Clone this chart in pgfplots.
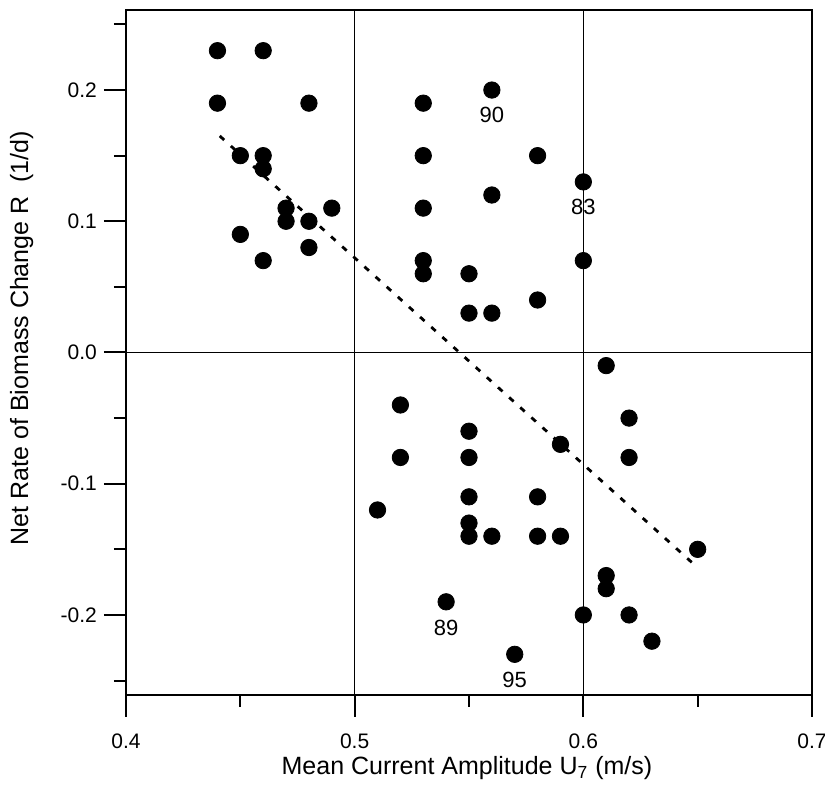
\documentclass[border=0pt]{standalone}
\usepackage{pgfplots}
\pgfplotsset{compat=1.18}
\usepackage{fontspec}
\setmainfont{Liberation Sans}
\begin{document}
\begin{tikzpicture}
\begin{axis}[
  scale only axis,
  width=343pt, height=342.5pt,
  xmin=0.4, xmax=0.7, ymin=-0.261, ymax=0.261,
  axis line style={line width=1pt},
  xtick={0.4,0.5,0.6,0.7},
  xticklabels={0.4,0.5,0.6,0.7},
  ytick={-0.2,-0.1,0,0.1,0.2},
  yticklabels={-0.2,-0.1,0.0,0.1,0.2},
  minor xtick={0.45,0.55,0.65},
  minor ytick={-0.25,-0.15,-0.05,0.05,0.15,0.25},
  tick align=outside,
  xtick pos=bottom, ytick pos=left,
  major tick length=11pt, minor tick length=6pt,
  tick style={black, line width=1pt},
  ticklabel style={font=\fontsize{10.5}{12}\selectfont},
  xticklabel style={yshift=-5pt},
  xmajorgrids,
  major grid style={black, line width=0.5pt},
  xlabel={Mean Current Amplitude U$_{\mathrm{7}}$ (m/s)},
  ylabel={Net Rate of Biomass Change R\ \ (1/d)},
  label style={font=\fontsize{12.5}{15}\selectfont},
  xlabel style={at={(axis description cs:0.497,-0.107)}, anchor=center},
  ylabel style={at={(axis description cs:-0.152,0.521)}, anchor=center},
  clip=false,
]
\draw[black, line width=0.5pt] (axis cs:0.4,0) -- (axis cs:0.7,0);
\addplot[black, line width=1.4pt, dash pattern=on 3pt off 4.5pt] coordinates {(0.441,0.165) (0.650,-0.164)};
\addplot[only marks, mark=*, mark size=4.1pt, black] coordinates {
(0.44,0.23) (0.46,0.23) (0.44,0.19) (0.48,0.19)
(0.45,0.15) (0.46,0.15) (0.46,0.14)
(0.47,0.11) (0.49,0.11) (0.47,0.10) (0.48,0.10)
(0.45,0.09) (0.48,0.08) (0.46,0.07)
(0.53,0.19) (0.56,0.20) (0.53,0.15) (0.58,0.15)
(0.60,0.13) (0.56,0.12) (0.53,0.11)
(0.53,0.07) (0.53,0.06) (0.55,0.06) (0.60,0.07)
(0.58,0.04) (0.55,0.03) (0.56,0.03)
(0.61,-0.01) (0.52,-0.04) (0.62,-0.05) (0.55,-0.06)
(0.59,-0.07) (0.52,-0.08) (0.55,-0.08) (0.62,-0.08)
(0.55,-0.11) (0.58,-0.11) (0.51,-0.12) (0.55,-0.13)
(0.55,-0.14) (0.56,-0.14) (0.58,-0.14) (0.59,-0.14)
(0.65,-0.15) (0.61,-0.17) (0.61,-0.18)
(0.54,-0.19) (0.60,-0.20) (0.62,-0.20) (0.63,-0.22) (0.57,-0.23)
};
\node[font=\fontsize{11}{12}\selectfont, yshift=-12.5pt] at (axis cs:0.56,0.20) {90};
\node[font=\fontsize{11}{12}\selectfont, yshift=-12.5pt] at (axis cs:0.60,0.13) {83};
\node[font=\fontsize{11}{12}\selectfont, yshift=-13pt] at (axis cs:0.54,-0.19) {89};
\node[font=\fontsize{11}{12}\selectfont, yshift=-13pt] at (axis cs:0.57,-0.23) {95};
\end{axis}
\pgfresetboundingbox
\path[use as bounding box] (current axis.south west) ++(-63pt,-45pt) rectangle ++(412.5pt,392.5pt);
\end{tikzpicture}
\end{document}
